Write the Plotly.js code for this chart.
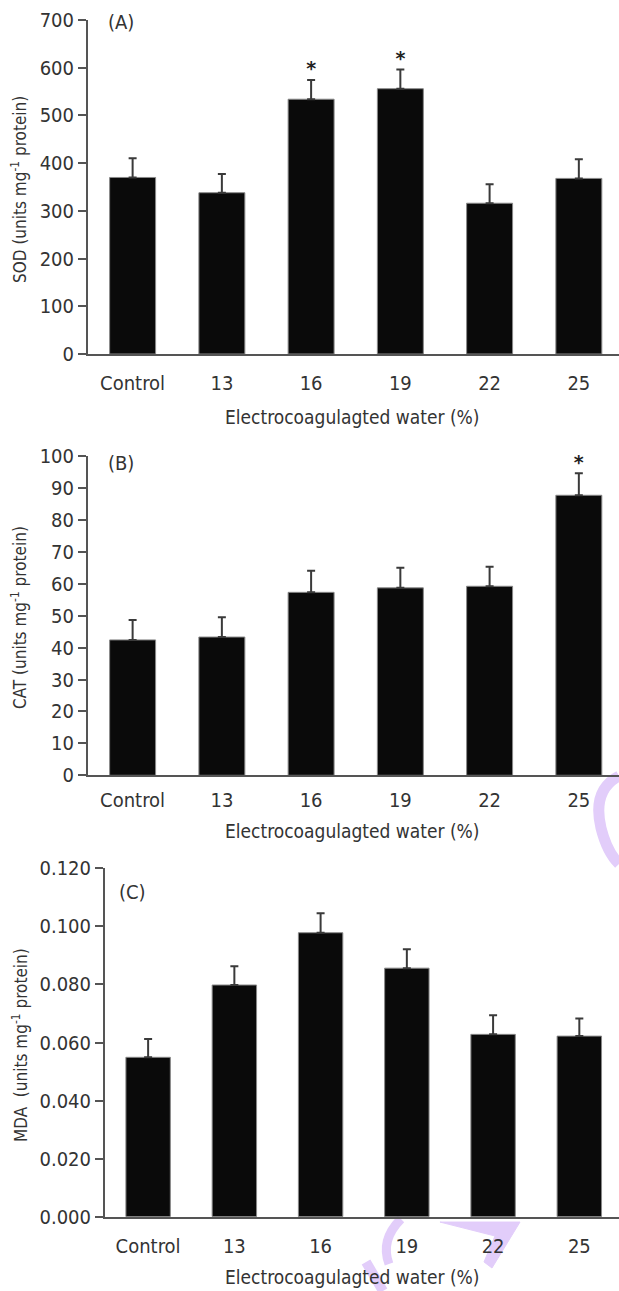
<!DOCTYPE html>
<html>
<head>
<meta charset="utf-8">
<script src="https://cdn.plot.ly/plotly-3.0.1.min.js"></script>
<style>
  html, body { margin: 0; padding: 0; background: #fff; }
  #chart { width: 619px; height: 1291px; }
</style>
</head>
<body>
<div id="chart"></div>
<script>
// Treatment groups (electrocoagulated water, %)
const categories = ['Control', '13', '16', '19', '22', '25'];

// (A) SOD activity, units mg-1 protein
const sodMean = [370, 338, 534, 556, 316, 368];
const sodSE   = [40, 39, 40, 40, 40, 40];
const sodSig  = ['', '', '*', '*', '', ''];

// (B) CAT activity, units mg-1 protein
const catMean = [42.4, 43.3, 57.3, 58.7, 59.2, 87.7];
const catSE   = [6.2, 6.2, 6.8, 6.3, 6.1, 6.9];
const catSig  = ['', '', '', '', '', '*'];

// (C) MDA content, units mg-1 protein
const mdaMean = [0.0549, 0.0798, 0.0978, 0.0856, 0.0628, 0.0622];
const mdaSE   = [0.0063, 0.0065, 0.0067, 0.0065, 0.0066, 0.0061];

const W = 619, H = 1291;
const px = x => x / W;
const py = y => 1 - y / H;

const FONT = "'DejaVu Sans Condensed', 'DejaVu Sans', sans-serif";
const TXT = '#333333';
const AX = '#555555';
const FS = 20;

function barTrace(vals, errs, xa, ya) {
  return {
    type: 'bar',
    x: categories,
    y: vals,
    xaxis: xa, yaxis: ya,
    width: 0.515,
    marker: { color: '#0a0a0a', line: { color: '#888888', width: 1 } },
    error_y: {
      type: 'data', array: errs, arrayminus: errs.map(() => 0), symmetric: false,
      color: '#3a3a3a', thickness: 2, width: 4
    },
    hoverinfo: 'skip'
  };
}

// asterisks placed on top of each marked error bar
function sigTrace(sig, vals, errs, xa, ya) {
  const xs = [], ys = [], ts = [];
  sig.forEach((s, i) => {
    if (!s) return;
    xs.push(categories[i]); ys.push(vals[i] + errs[i]); ts.push(s);
  });
  return {
    type: 'scatter', mode: 'text', x: xs, y: ys, text: ts,
    xaxis: xa, yaxis: ya, textposition: 'top center', cliponaxis: false,
    textfont: { family: 'DejaVu Sans, sans-serif', size: 19, color: '#222222', weight: 'bold' },
    hoverinfo: 'skip'
  };
}

const data = [
  barTrace(sodMean, sodSE, 'x', 'y'),
  barTrace(catMean, catSE, 'x2', 'y2'),
  barTrace(mdaMean, mdaSE, 'x3', 'y3'),
  sigTrace(sodSig, sodMean, sodSE, 'x', 'y'),
  sigTrace(catSig, catMean, catSE, 'x2', 'y2')
];

function xAxis(domain, anchor, range, standoff) {
  return {
    domain: domain, anchor: anchor, type: 'category', range: range,
    showline: true, linecolor: AX, linewidth: 2,
    ticks: '', showgrid: false, zeroline: false,
    ticklabelstandoff: standoff,
    tickfont: { family: FONT, size: FS, color: TXT }
  };
}
function yAxis(domain, anchor, range, dtick, fmt) {
  return {
    domain: domain, anchor: anchor, range: range, dtick: dtick, tickformat: fmt,
    showline: true, linecolor: AX, linewidth: 2,
    ticks: 'outside', ticklen: 8, tickwidth: 2, tickcolor: AX,
    showgrid: false, zeroline: false,
    tickfont: { family: FONT, size: FS, color: TXT }
  };
}

const annotations = [];
function text(x, y, s, opts) {
  annotations.push(Object.assign({
    xref: 'paper', yref: 'paper', x: x, y: y, text: s, showarrow: false,
    font: { family: FONT, size: FS, color: TXT }, xanchor: 'center', yanchor: 'middle'
  }, opts || {}));
}

// panel letters
text(px(106), py(22), '(A)', { xanchor: 'left' });
text(px(106), py(463), '(B)', { xanchor: 'left' });
text(px(117), py(892), '(C)', { xanchor: 'left' });

// axis titles
const xTitle = 'Electrocoagulagted water (%)';
const tFont = { family: FONT, size: 19, color: TXT };
text(px(352), py(417), xTitle, { font: tFont });
text(px(352), py(831), xTitle, { font: tFont });
text(px(352), py(1277), xTitle, { font: tFont });
const yFont = { family: FONT, size: 17, color: TXT };
text(px(19), py(190), 'SOD (units mg<sup>-1</sup> protein)', { textangle: -90, font: yFont });
text(px(19), py(618), 'CAT (units mg<sup>-1</sup> protein)', { textangle: -90, font: yFont });
text(px(20), py(1045), 'MDA  (units mg<sup>-1</sup> protein)', { textangle: -90, font: yFont });

// faint publisher mark strokes in the margins
const P = (x, y) => px(x).toFixed(4) + ',' + py(y).toFixed(4);
const wm = '#e2cdfa';
const shapes = [
  { type: 'path', xref: 'paper', yref: 'paper', layer: 'below',
    path: 'M' + P(619, 776) + ' Q' + P(592, 790) + ' ' + P(601, 828) + ' Q' + P(607, 852) + ' ' + P(619, 864),
    line: { color: wm, width: 11 } },
  { type: 'path', xref: 'paper', yref: 'paper', layer: 'below',
    path: 'M' + P(401, 1219) + ' Q' + P(380, 1240) + ' ' + P(389, 1264),
    line: { color: wm, width: 9 } },
  { type: 'path', xref: 'paper', yref: 'paper', layer: 'below',
    path: 'M' + P(440, 1222) + ' L' + P(520, 1222) + ' L' + P(492, 1268) + ' L' + P(484, 1262) + ' L' + P(495, 1236) + ' Z',
    fillcolor: wm, line: { color: wm, width: 1 } },
  { type: 'path', xref: 'paper', yref: 'paper', layer: 'below',
    path: 'M' + P(366, 1262) + ' L' + P(383, 1291),
    line: { color: wm, width: 10 } }
];

const layout = {
  width: W, height: H,
  margin: { l: 0, r: 0, t: 0, b: 0 },
  paper_bgcolor: '#ffffff', plot_bgcolor: 'rgba(0,0,0,0)',
  showlegend: false,
  xaxis:  xAxis([px(88), 1], 'y', [-0.5, 5.45], 10),
  yaxis:  yAxis([py(354), py(20)], 'x', [0, 700], 100),
  xaxis2: xAxis([px(88), 1], 'y2', [-0.5, 5.45], 6),
  yaxis2: yAxis([py(775.3), py(456)], 'x2', [0, 100], 10),
  xaxis3: xAxis([px(105), 1], 'y3', [-0.5, 5.46], 10),
  yaxis3: yAxis([py(1216.7), py(868.3)], 'x3', [0, 0.12], 0.02, '.3f'),
  annotations: annotations,
  shapes: shapes
};

Plotly.newPlot('chart', data, layout, { displayModeBar: false, staticPlot: true });
</script>
</body>
</html>
